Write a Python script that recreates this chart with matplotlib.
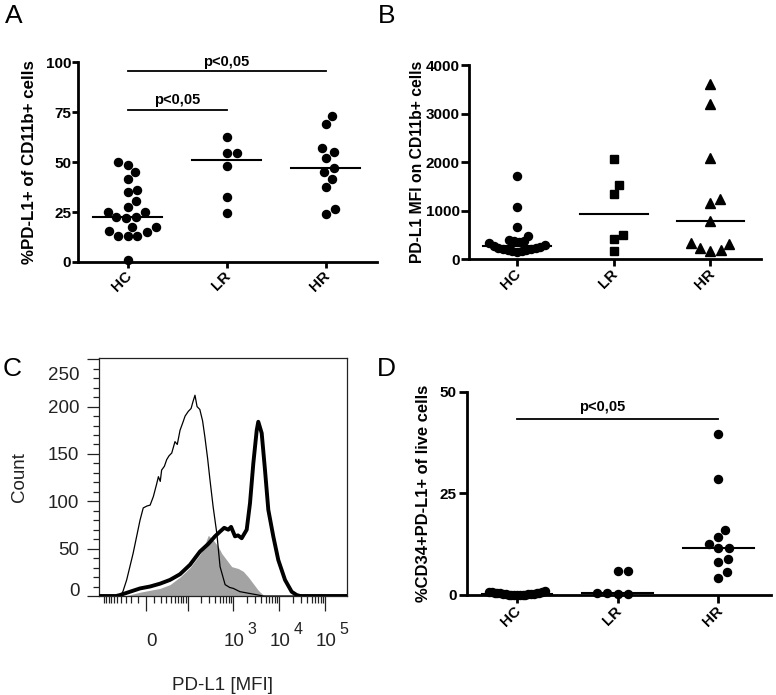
import numpy as np
import matplotlib
matplotlib.use("Agg")
import matplotlib.pyplot as plt
from matplotlib.transforms import ScaledTranslation

plt.rcParams['font.family'] = ['Liberation Sans', 'DejaVu Sans']

groups = ["HC", "LR", "HR"]

# A: %PD-L1+ of CD11b+ cells
a_hc = [50.0, 48.5, 45.0, 41.5, 36.0, 35.0, 30.5, 27.5, 25.3, 25.0, 22.6,
        22.0, 22.5, 17.7, 17.4, 15.6, 14.9, 13.2, 13.0, 13.1, 1.0]
a_lr = [62.5, 54.5, 54.5, 48.0, 32.5, 24.5]
a_hr = [73.0, 69.0, 57.0, 55.0, 52.0, 47.0, 45.0, 41.5, 37.5, 26.5, 24.0]

# B: PD-L1 MFI on CD11b+ cells
b_hc = [1715, 1080, 670, 485, 395, 385, 370, 355, 330, 300, 275,
        255, 240, 225, 215, 205, 195, 185, 175, 165, 155]
b_lr = [2065, 1530, 1345, 500, 410, 180]
b_hr = [3610, 3200, 2090, 1235, 1150, 790, 330, 315, 240, 190, 170]

# D: %CD34+PD-L1+ of live cells
d_hc = [0.9, 0.85, 0.8, 0.7, 0.6, 0.55, 0.5, 0.45, 0.4, 0.35, 0.3,
        0.25, 0.2, 0.15, 0.12, 0.1, 0.08, 0.05, 0.03, 0.02, 0.0]
d_lr = [6.0, 6.0, 0.5, 0.4, 0.3, 0.2]
d_hr = [39.6, 28.6, 16.1, 14.2, 12.5, 11.6, 11.6, 8.8, 8.0, 5.6, 4.3]

# C: histograms, x in biexponential display units (decades), y = count
thin_u = [0.08, 0.55, 0.60, 0.68, 0.82, 0.97, 1.04, 1.12, 1.19, 1.26, 1.33, 1.37,
          1.41, 1.44, 1.50, 1.55, 1.60, 1.66, 1.73, 1.78, 1.84, 1.90, 1.95, 2.02,
          2.08, 2.12, 2.165, 2.21, 2.27, 2.33, 2.38, 2.44, 2.49, 2.56, 2.64, 2.71,
          2.82, 2.92, 3.0, 3.14, 3.43, 3.65, 5.46]
thin_count = [0, 0, 5, 17, 45, 80, 93, 95, 96, 105, 118, 126,
              121, 133, 137, 144, 148, 151, 163, 160, 175, 183, 190, 195,
              198, 205, 212, 200, 197, 185, 168, 145, 123, 94, 66, 31,
              12, 9, 8, 4.6, 2, 0, 0]
thick_u = [0.08, 0.45, 0.535, 0.752, 0.97, 1.187, 1.404, 1.622, 1.839, 2.057, 2.274,
           2.454, 2.6, 2.709, 2.80, 2.889, 2.95, 3.035, 3.10, 3.18, 3.289, 3.361,
           3.433, 3.507, 3.541, 3.615, 3.687, 3.759, 3.867, 3.976, 4.122, 4.267,
           4.376, 4.45, 5.46]
thick_count = [0, 0, 1, 4.5, 8, 10, 13, 17, 23, 33, 47,
               55, 63, 68, 72, 70, 73, 63, 64, 61, 70, 98,
               140, 175, 184, 172, 133, 91, 63, 38, 17, 4.5,
               1, 0, 0]
gray_u = [0.64, 0.97, 1.404, 1.622, 1.839, 2.057, 2.274, 2.383, 2.454, 2.563, 2.672,
          2.746, 2.854, 2.963, 3.107, 3.215, 3.324, 3.433, 3.541, 3.65, 3.75]
gray_count = [0, 4, 8, 12, 20, 30, 44, 55, 64, 59, 52,
              45, 38, 31, 29, 26, 20, 13, 6, 1, 0]


def biex(v):
    return np.arcsinh(np.asarray(v, float) / 25.2) / np.log(10) + 1.1


def swarm_x(ax, center, vals, gap, max_px):
    vals = np.asarray(vals, float)
    ys = ax.transData.transform(np.column_stack([np.full(len(vals), center), vals]))[:, 1]
    offs = np.zeros(len(vals))
    px, py = [], []
    for i in np.argsort(ys, kind='stable'):
        y = ys[i]
        cands = [0.0]
        for qx, qy in zip(px, py):
            dy = abs(y - qy)
            if dy < gap:
                dx = np.sqrt(gap**2 - dy**2)
                cands += [qx + dx, qx - dx]
        cands.sort(key=abs)
        for c in cands:
            if all((c - qx)**2 + (y - qy)**2 >= gap**2 - 1e-6 for qx, qy in zip(px, py)):
                break
        offs[i] = c
        px.append(c)
        py.append(y)
    m = np.abs(offs).max()
    if m > max_px:
        offs *= max_px / m
    unit = ax.transData.transform((1, 0))[0] - ax.transData.transform((0, 0))[0]
    return center + offs / unit


W, H = 776, 695
fig = plt.figure(figsize=(7.76, 6.95), dpi=100)


def add_ax(l, t, r, b):
    return fig.add_axes([l / W, 1 - b / H, (r - l) / W, (b - t) / H])


def dot_panel(ax, data, markers, msizes, ylim, yticks, ylabel, lab_x, lab_size,
              ylen, xlen):
    ax.set_xlim(-0.5, 2.52)
    ax.set_ylim(*ylim)
    for s in ['top', 'right']:
        ax.spines[s].set_visible(False)
    for s in ['left', 'bottom']:
        ax.spines[s].set_linewidth(2)
    ax.tick_params(axis='y', width=2, length=ylen, labelsize=11, pad=1)
    ax.tick_params(axis='x', width=2, length=xlen, labelsize=11, pad=0.5)
    ax.set_yticks(yticks)
    ax.set_yticklabels([str(t) for t in yticks], fontweight='bold')
    ax.set_xticks(range(3))
    ax.set_xticklabels(groups, rotation=45, ha='right', va='top',
                       rotation_mode='anchor', fontweight='bold')
    off = ScaledTranslation(-2.2 / 72, 0, fig.dpi_scale_trans)
    for lab in ax.get_xticklabels():
        lab.set_transform(lab.get_transform() + off)
    bb = ax.get_position()
    fig.text(lab_x / W, bb.y0 + bb.height / 2, ylabel, rotation=90, ha='center',
             va='center', fontweight='bold', fontsize=lab_size)
    for i, vals in enumerate(data):
        xs = swarm_x(ax, i, vals, 10.5, 28)
        ax.plot(xs, vals, linestyle='none', marker=markers[i], ms=msizes[i],
                color='black', clip_on=False, zorder=3)
        med = np.median(vals)
        ax.plot([i - 0.35, i + 0.35], [med, med], color='black', lw=1.5, zorder=2)


# A
axA = add_ax(78, 62.5, 377, 262)
dot_panel(axA, [a_hc, a_lr, a_hr], ['o', 'o', 'o'], [5.8, 5.8, 5.8],
          (0, 100), [0, 25, 50, 75, 100], "%PD-L1+ of CD11b+ cells", 30, 12.2, 4, 4.5)
axA.plot([0, 1], [76, 76], color='black', lw=1.3, clip_on=False)
axA.text(0.5, 79, "p<0,05", ha='center', va='baseline', fontsize=10.5, fontweight='bold')
axA.plot([0, 2], [95.8, 95.8], color='black', lw=1.3, clip_on=False)
axA.text(1, 98.2, "p<0,05", ha='center', va='baseline', fontsize=10.5, fontweight='bold')

# B
axB = add_ax(468.7, 65, 760.7, 259.3)
dot_panel(axB, [b_hc, b_lr, b_hr], ['o', 's', '^'], [5.8, 5.4, 6.6],
          (0, 4000), [0, 1000, 2000, 3000, 4000], "PD-L1 MFI on CD11b+ cells",
          417, 11.3, 5.5, 5)

# D
axD = add_ax(466.7, 391.7, 770.7, 595)
dot_panel(axD, [d_hc, d_lr, d_hr], ['o', 'o', 'o'], [5.8, 5.8, 5.8],
          (0, 50), [0, 25, 50], "%CD34+PD-L1+ of live cells", 424, 11.9, 6, 6)
axD.plot([0, 2], [43.4, 43.4], color='black', lw=1.3, clip_on=False)
axD.text(0.85, 45.3, "p<0,05", ha='center', va='baseline', fontsize=10.5, fontweight='bold')

# C
txt = '#222222'
axC = add_ax(99.3, 358.3, 346.7, 596)
axC.fill_between(gray_u, gray_count, color='#a3a3a3', lw=0, zorder=1)
axC.plot(thin_u, thin_count, color='black', lw=0.9, zorder=2)
axC.plot(thick_u, thick_count, color='black', lw=2.8, zorder=3)
axC.set_xlim(0.085, 5.463)
axC.set_ylim(0, 251)
for s in axC.spines.values():
    s.set_linewidth(0.9)
    s.set_color(txt)
axC.set_yticks([0, 50, 100, 150, 200, 250])
axC.set_yticks(np.arange(10, 251, 10), minor=True)
axC.tick_params(axis='y', which='major', length=8.3, width=0.9, pad=6,
                labelsize=13.5, labelcolor=txt, color=txt)
axC.tick_params(axis='y', which='minor', length=4, width=0.9, color=txt)
for lab in axC.get_yticklabels():
    if lab.get_text() == '250':
        lab.set_transform(lab.get_transform() + ScaledTranslation(0, -10 / 72, fig.dpi_scale_trans))
    if lab.get_text() == '0':
        lab.set_transform(lab.get_transform() + ScaledTranslation(0, 5 / 72, fig.dpi_scale_trans))

major_mfi = [0, 1e2, 1e3, 1e4, 1e5]
minor_mfi = [k * 10**n for n in range(1, 5) for k in range(1, 10)]
minor_mfi += [-k * 10 for k in range(1, 11)]
minor_mfi = [m for m in minor_mfi if m not in major_mfi]
axC.set_xticks(biex(major_mfi))
axC.set_xticks(biex(minor_mfi), minor=True)
axC.set_xticklabels([])
axC.tick_params(axis='x', which='major', length=11, width=0.9, color=txt)
axC.tick_params(axis='x', which='minor', length=5, width=0.9, color=txt)

# biexponential axis labels: "0", then 10 with a raised exponent
axC.annotate("0", xy=(biex(0), 0), xycoords=('data', 'axes fraction'),
             xytext=(4, -36), textcoords='offset points',
             ha='center', va='baseline', fontsize=13.5, color=txt)
for m, expo in [(1e3, "3"), (1e4, "4"), (1e5, "5")]:
    axC.annotate("10", xy=(biex(m), 0), xycoords=('data', 'axes fraction'),
                 xytext=(0.7, -36), textcoords='offset points',
                 ha='center', va='baseline', fontsize=13.5, color=txt)
    axC.annotate(expo, xy=(biex(m), 0), xycoords=('data', 'axes fraction'),
                 xytext=(10.2, -27.4), textcoords='offset points',
                 ha='left', va='baseline', fontsize=11.5, color=txt)
axC.set_xlabel("PD-L1 [MFI]", fontsize=13.5, color=txt, labelpad=44)
axC.set_ylabel("Count", fontsize=13.5, color=txt, labelpad=14)

# panel letters
for letter, x, y in [("A", 5, 4), ("B", 378, 4), ("C", 3, 357), ("D", 377, 357)]:
    fig.text(x / W, 1 - y / H, letter, fontsize=19, ha='left', va='top')

fig.savefig("out.png", dpi=100)
